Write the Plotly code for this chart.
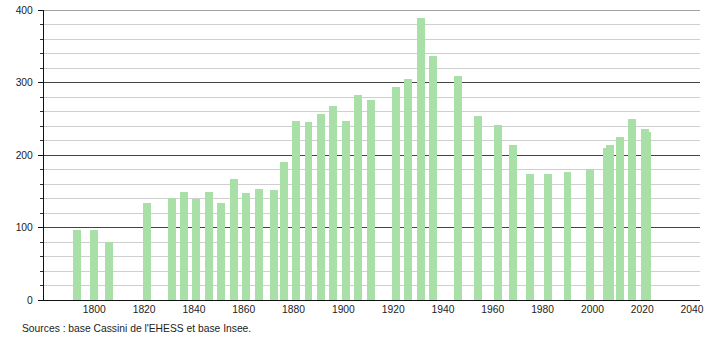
import plotly.graph_objects as go

years = [1793, 1800, 1806, 1821, 1831, 1836, 1841, 1846, 1851, 1856,
         1861, 1866, 1872, 1876, 1881, 1886, 1891, 1896, 1901, 1906,
         1911, 1921, 1926, 1931, 1936, 1946, 1954, 1962, 1968, 1975,
         1982, 1990, 1999, 2006, 2007, 2011, 2016, 2021, 2022]
population = [97, 97, 80, 134, 141, 149, 139, 149, 134, 167,
              147, 153, 152, 191, 247, 246, 256, 267, 247, 283,
              276, 294, 305, 389, 337, 309, 254, 242, 214, 174,
              174, 177, 181, 210, 214, 225, 250, 236, 232]

x_ticks = [1800, 1820, 1840, 1860, 1880, 1900, 1920, 1940, 1960, 1980, 2000, 2020, 2040]
source_text = "Sources : base Cassini de l'EHESS et base Insee."

font_family = "Liberation Sans, Arial, sans-serif"

fig = go.Figure()
fig.add_trace(go.Bar(
    x=years, y=population, width=3.2,
    marker=dict(color="rgb(168,224,168)", line=dict(width=0)),
    hoverinfo="x+y",
))

fig.update_layout(
    width=710, height=340,
    margin=dict(l=44, r=10, t=10, b=40),
    paper_bgcolor="white", plot_bgcolor="white",
    showlegend=False,
    font=dict(family=font_family, size=10.3, color="#222"),
    bargap=0,
)
fig.update_xaxes(
    range=[1779.8, 2043.2], automargin=False,
    tickmode="array", tickvals=x_ticks, ticktext=[str(v) for v in x_ticks],
    showgrid=False, zeroline=False,
    showline=True, linecolor="#111", linewidth=1.2,
    ticks="",
    tickfont=dict(family=font_family, size=10.3, color="#222"),
)
fig.update_yaxes(
    range=[0, 400], automargin=False,
    tickmode="linear", tick0=0, dtick=100,
    showgrid=True, gridcolor="#444", gridwidth=1,
    zeroline=False,
    showline=True, linecolor="#111", linewidth=1.2,
    ticks="outside", ticklen=5, tickcolor="#111",
    ticklabelstandoff=3,
    tickfont=dict(family=font_family, size=10.3, color="#222"),
    minor=dict(tickmode="linear", tick0=0, dtick=20, showgrid=True,
               gridcolor="#cfcfcf", gridwidth=1,
               ticks="outside", ticklen=3, tickcolor="#333"),
)

# dark line at the top of the value range (400)
fig.add_shape(type="line", xref="paper", yref="y", x0=0, x1=1, y0=400, y1=400,
              line=dict(color="#444", width=1), layer="below")

fig.add_annotation(
    text=source_text, xref="paper", yref="paper",
    x=(20 - 44) / 656, y=(300.3 - 329) / 290,
    xanchor="left", yanchor="middle", showarrow=False,
    font=dict(family=font_family, size=10.3, color="#222"),
)

fig.write_html("out.html")
